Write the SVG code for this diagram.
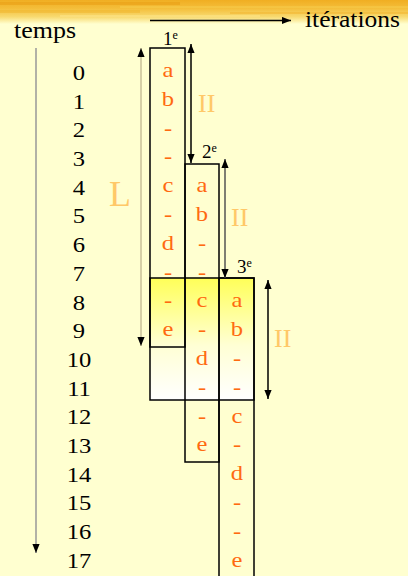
<svg xmlns="http://www.w3.org/2000/svg" width="408" height="576" viewBox="0 0 408 576" font-family="'Liberation Serif', 'Times New Roman', serif">
  <defs>
    <linearGradient id="band" x1="0" y1="0" x2="0" y2="1">
      <stop offset="0" stop-color="#F0AE22"/>
      <stop offset="0.35" stop-color="#F4BE3A"/>
      <stop offset="0.7" stop-color="#F8DA70"/>
      <stop offset="1" stop-color="#FFFFD0"/>
    </linearGradient>
    <linearGradient id="glow" x1="0" y1="0" x2="0" y2="1">
      <stop offset="0" stop-color="#FFFF58"/>
      <stop offset="0.55" stop-color="#FFFFD4"/>
      <stop offset="1" stop-color="#FFFFFF"/>
    </linearGradient>
    <marker id="head" viewBox="0 0 10 8" refX="10" refY="4" markerWidth="9" markerHeight="8" markerUnits="userSpaceOnUse" orient="auto-start-reverse">
      <path d="M0,0 L10,4 L0,8 Z" fill="#000"/>
    </marker>
  </defs>
  <style>
    text { font-family: 'Liberation Serif', 'Times New Roman', serif; }
    .lbl { fill: #000; }
    .num { font-size: 22px; fill: #000; text-anchor: middle; }
    .op { font-size: 22px; fill: #FF6A10; text-anchor: middle; }
    .soft { fill: #FFC868; }
    .box { fill: none; stroke: #000; stroke-width: 1.5; }
    .arr { fill: none; stroke-width: 1.5; }
  </style>

  <!-- page background and brushed top band -->
  <rect x="0" y="0" width="408" height="576" fill="#FFFFD0"/>
  <rect x="0" y="0" width="408" height="24" fill="url(#band)"/>
  <g opacity="0.45">
    <rect x="0" y="2" width="180" height="3" fill="#E89A10"/>
    <rect x="120" y="6" width="288" height="2" fill="#F8D050"/>
    <rect x="0" y="10" width="140" height="3" fill="#F0B428"/>
    <rect x="230" y="12" width="178" height="2" fill="#F2B22A"/>
    <rect x="60" y="15" width="200" height="2" fill="#FFE890"/>
  </g>

  <!-- axis titles -->
  <text class="lbl" transform="translate(14 38) scale(1.13 1)" x="0" y="0" font-size="23">temps</text>
  <text class="lbl" transform="translate(305 27) scale(1.11 1)" x="0" y="0" font-size="23">itérations</text>

  <!-- time indices -->
  <g id="time-axis" transform="translate(79 0) scale(1.12 1)">
    <text class="num" x="0" y="80">0</text>
    <text class="num" x="0" y="108.7">1</text>
    <text class="num" x="0" y="137.4">2</text>
    <text class="num" x="0" y="166.1">3</text>
    <text class="num" x="0" y="194.8">4</text>
    <text class="num" x="0" y="223.5">5</text>
    <text class="num" x="0" y="252.2">6</text>
    <text class="num" x="0" y="280.9">7</text>
    <text class="num" x="0" y="309.6">8</text>
    <text class="num" x="0" y="338.3">9</text>
    <text class="num" x="0" y="367">10</text>
    <text class="num" x="0" y="395.7">11</text>
    <text class="num" x="0" y="424.4">12</text>
    <text class="num" x="0" y="453.1">13</text>
    <text class="num" x="0" y="481.8">14</text>
    <text class="num" x="0" y="510.5">15</text>
    <text class="num" x="0" y="539.2">16</text>
    <text class="num" x="0" y="567.9">17</text>
  </g>

  <!-- overlap zone where the three iterations run together -->
  <rect id="overlap" x="150" y="278" width="104" height="122" fill="url(#glow)" stroke="#000" stroke-width="1.5"/>

  <!-- iteration 1 -->
  <g id="iter1">
    <rect class="box" x="150" y="48" width="35" height="299"/>
    <text class="lbl" x="163" y="44.5" font-size="19">1<tspan font-size="12" dy="-6">e</tspan></text>
    <g transform="translate(168 0) scale(1.12 1)">
      <text class="op" x="0" y="77">a</text>
      <text class="op" x="0" y="105.8">b</text>
      <text class="op" x="0" y="134.6">-</text>
      <text class="op" x="0" y="163.4">-</text>
      <text class="op" x="0" y="192.2">c</text>
      <text class="op" x="0" y="221">-</text>
      <text class="op" x="0" y="249.8">d</text>
      <text class="op" x="0" y="278.6">-</text>
      <text class="op" x="0" y="307.4">-</text>
      <text class="op" x="0" y="336.2">e</text>
    </g>
  </g>

  <!-- iteration 2 -->
  <g id="iter2">
    <rect class="box" x="185" y="164" width="34" height="298"/>
    <text class="lbl" x="202" y="158" font-size="19">2<tspan font-size="12" dy="-6">e</tspan></text>
    <g transform="translate(202 0) scale(1.12 1)">
      <text class="op" x="0" y="192.2">a</text>
      <text class="op" x="0" y="221">b</text>
      <text class="op" x="0" y="249.8">-</text>
      <text class="op" x="0" y="278.6">-</text>
      <text class="op" x="0" y="307.4">c</text>
      <text class="op" x="0" y="336.2">-</text>
      <text class="op" x="0" y="365">d</text>
      <text class="op" x="0" y="393.8">-</text>
      <text class="op" x="0" y="422.6">-</text>
      <text class="op" x="0" y="451.4">e</text>
    </g>
  </g>

  <!-- iteration 3 -->
  <g id="iter3">
    <rect class="box" x="219" y="278" width="35" height="310"/>
    <text class="lbl" x="237" y="273" font-size="19">3<tspan font-size="12" dy="-6">e</tspan></text>
    <g transform="translate(237 0) scale(1.12 1)">
      <text class="op" x="0" y="307.4">a</text>
      <text class="op" x="0" y="336.2">b</text>
      <text class="op" x="0" y="365">-</text>
      <text class="op" x="0" y="393.8">-</text>
      <text class="op" x="0" y="422.6">c</text>
      <text class="op" x="0" y="451.4">-</text>
      <text class="op" x="0" y="480.2">d</text>
      <text class="op" x="0" y="509">-</text>
      <text class="op" x="0" y="537.8">-</text>
      <text class="op" x="0" y="566.6">e</text>
    </g>
  </g>

  <!-- dimension labels -->
  <text class="soft" x="109" y="206" font-size="36">L</text>
  <text class="soft" x="198" y="112" font-size="26">II</text>
  <text class="soft" x="231" y="226" font-size="26">II</text>
  <text class="soft" x="274" y="347" font-size="26">II</text>

  <!-- connectors: axes and spans -->
  <g id="connectors">
    <line class="arr" x1="150" y1="20.5" x2="291" y2="20.5" stroke="#000" marker-end="url(#head)"/>
    <line class="arr" x1="36" y1="48" x2="36" y2="553" stroke="#999" stroke-width="1" marker-end="url(#head)"/>
    <line class="arr" x1="141" y1="48" x2="141" y2="346" stroke="#C8C098" marker-start="url(#head)" marker-end="url(#head)"/>
    <line class="arr" x1="191" y1="44" x2="191" y2="163" stroke="#000" marker-start="url(#head)" marker-end="url(#head)"/>
    <line class="arr" x1="225" y1="159" x2="225" y2="278" stroke="#555" marker-start="url(#head)" marker-end="url(#head)"/>
    <line class="arr" x1="268" y1="280" x2="268" y2="399" stroke="#000" marker-start="url(#head)" marker-end="url(#head)"/>
  </g>
</svg>
